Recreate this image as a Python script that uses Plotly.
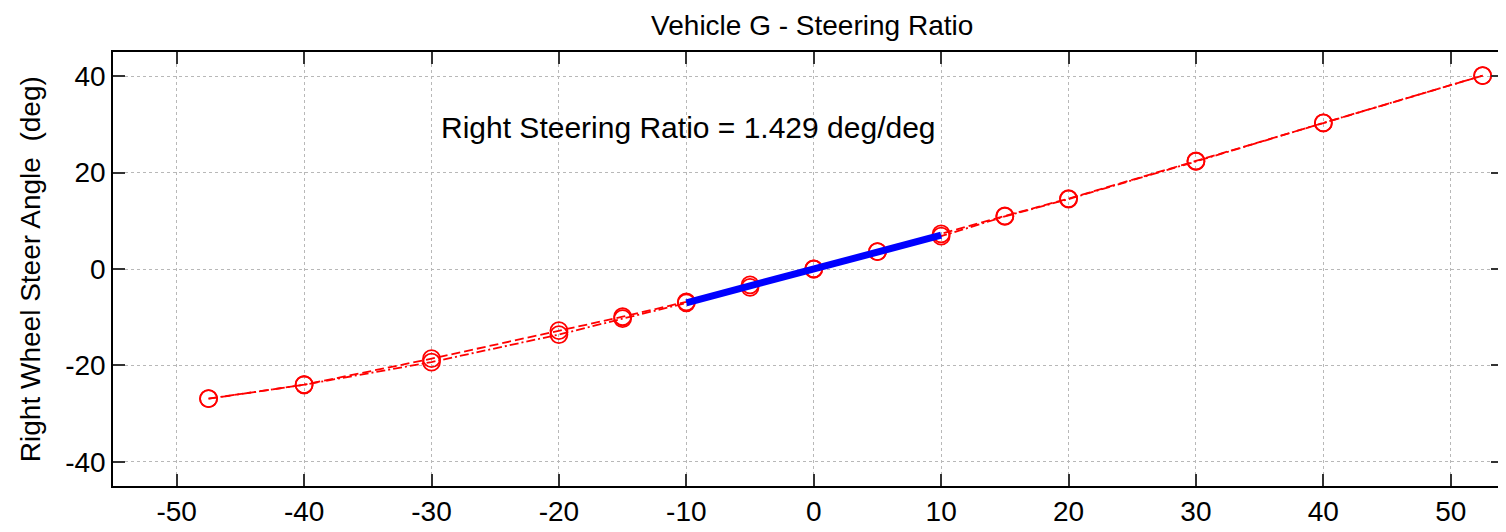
import plotly.graph_objects as go

x_vals = [-47.5, -40, -30, -20, -15, -10, -5, 0, 5, 10, 15, 20, 30, 40, 52.5]
run1_y = [-26.9, -24.0, -18.6, -12.8, -9.9, -6.8, -3.3, 0.0, 3.6, 7.3, 11.0, 14.6, 22.4, 30.3, 40.1]
run2_y = [-26.9, -24.0, -19.3, -13.6, -10.3, -7.0, -3.8, 0.0, 3.6, 6.8, 10.9, 14.5, 22.3, 30.3, 40.1]
fit_x = [-10, 10]
fit_y = [-7.0, 7.0]
x_ticks = [-50, -40, -30, -20, -10, 0, 10, 20, 30, 40, 50]
x_tick_labels = ["-50", "-40", "-30", "-20", "-10", "0", "10", "20", "30", "40", "50"]
y_ticks = [-40, -20, 0, 20, 40]
y_tick_labels = ["-40", "-20", "0", "20", "40"]

FONT = "Liberation Sans, Arial, sans-serif"
fig = go.Figure()
fig.add_trace(go.Scatter(x=x_vals, y=run1_y, mode="lines+markers",
                         line=dict(color="#ff0000", width=1.8, dash="9px,4px"),
                         marker=dict(symbol="circle-open", size=17, color="#ff0000", line=dict(width=1.8))))
fig.add_trace(go.Scatter(x=x_vals, y=run2_y, mode="lines+markers",
                         line=dict(color="#ff0000", width=1.8, dash="9px,3px,2px,3px"),
                         marker=dict(symbol="circle-open", size=17, color="#ff0000", line=dict(width=1.8))))
fig.add_trace(go.Scatter(x=fit_x, y=fit_y, mode="lines",
                         line=dict(color="#0000ff", width=7)))

fig.add_annotation(x=-9.8, y=29.3, text="Right Steering Ratio = 1.429 deg/deg",
                   showarrow=False, font=dict(family=FONT, size=30, color="black"))
fig.add_annotation(xref="paper", yref="paper", x=-0.0596, y=0.5, xanchor="center", yanchor="middle",
                   text="Right Wheel Steer Angle  (deg)", textangle=-90, showarrow=False,
                   font=dict(family=FONT, size=28, color="black"))

axis_common = dict(showline=True, linecolor="black", linewidth=1.5, mirror="allticks",
                   ticks="inside", ticklen=12, tickwidth=1.5, tickcolor="#333",
                   showgrid=True, gridcolor="#b8b8b8", griddash="dot", gridwidth=1,
                   zeroline=False, tickfont=dict(family=FONT, size=28, color="black"))

fig.update_layout(
    width=1506, height=532,
    margin=dict(l=105, r=9, t=44, b=54),
    paper_bgcolor="white", plot_bgcolor="white",
    showlegend=False,
    title=dict(text="Vehicle G - Steering Ratio", x=0.534, xanchor="center", y=0.968, yanchor="middle",
               font=dict(family=FONT, size=28, color="black")),
    xaxis=dict(range=[-55, 54.1], tickvals=x_ticks, ticktext=x_tick_labels, **axis_common),
    yaxis=dict(range=[-45, 45], tickvals=y_ticks, ticktext=y_tick_labels, **axis_common),
)
fig.write_html("out.html")
